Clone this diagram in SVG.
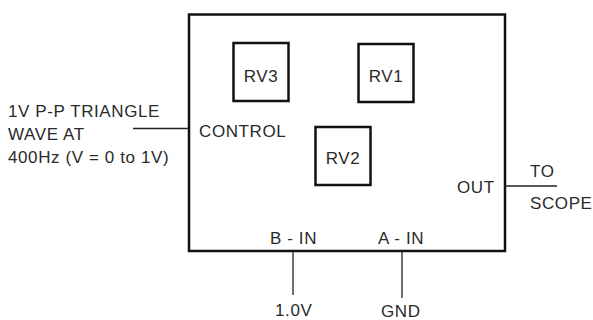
<svg xmlns="http://www.w3.org/2000/svg" width="593" height="320" viewBox="0 0 593 320">
<style>
text{font-family:"Liberation Sans",Arial,sans-serif;font-size:17px;fill:#2a2a2a;letter-spacing:0.6px}
.box{fill:none;stroke:#111;stroke-width:2.5}
.pot{fill:none;stroke:#111;stroke-width:2.5}
.wire{stroke:#222;stroke-width:1.3;fill:none}
.m{text-anchor:middle}
</style>
<rect width="593" height="320" fill="#fff"/>
<g id="module">
<rect class="box" x="189" y="14.5" width="316" height="236.5"/>
<text x="199" y="137">CONTROL</text>
<text x="270" y="244">B - IN</text>
<text x="378" y="244">A - IN</text>
<text x="457" y="193">OUT</text>
</g>
<g id="RV3">
<rect class="pot" x="233.5" y="43" width="55" height="58"/>
<text class="m" x="261" y="82">RV3</text>
</g>
<g id="RV1">
<rect class="pot" x="358.5" y="44" width="55" height="58"/>
<text class="m" x="386" y="82">RV1</text>
</g>
<g id="RV2">
<rect class="pot" x="315.5" y="127" width="55" height="58"/>
<text class="m" x="343" y="164">RV2</text>
</g>
<g id="input">
<text x="8" y="117">1V P-P TRIANGLE</text>
<text x="8" y="140">WAVE AT</text>
<text x="8" y="163">400Hz (V = 0 to 1V)</text>
</g>
<g id="scope">
<text x="530" y="177">TO</text>
<text x="530" y="209">SCOPE</text>
</g>
<g id="v1">
<text x="275" y="315.5">1.0V</text>
</g>
<g id="gnd">
<text x="381" y="316.5">GND</text>
</g>
<g id="connectors">
<line class="wire" x1="133" y1="128.5" x2="189" y2="128.5"/>
<line class="wire" x1="505" y1="186" x2="557" y2="186"/>
<line class="wire" x1="293" y1="251" x2="293" y2="295"/>
<line class="wire" x1="402" y1="251" x2="402" y2="298"/>
</g>
</svg>
